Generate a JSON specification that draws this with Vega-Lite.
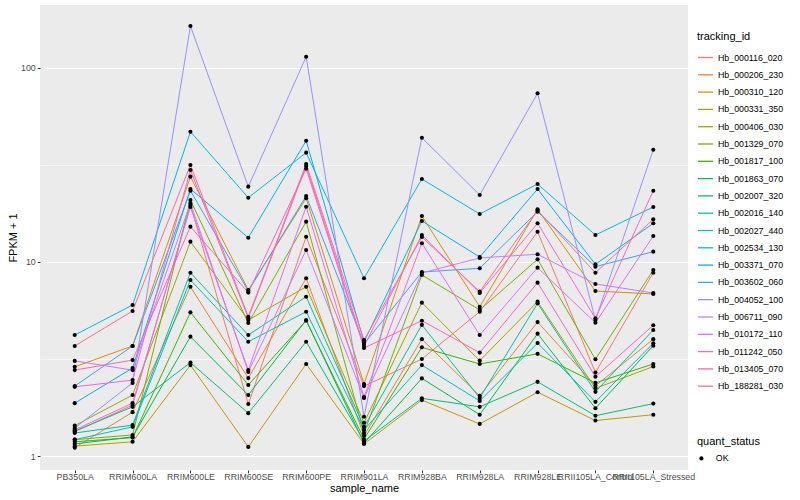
{
  "$schema": "https://vega.github.io/schema/vega-lite/v6.json",
  "width": 648,
  "height": 465,
  "autosize": {"type": "none"},
  "padding": {"left": 40, "top": 5, "right": 112, "bottom": 30},
  "background": "white",
  "config": {
    "font": "Liberation Sans",
    "view": {"fill": "#EBEBEB", "stroke": null},
    "axis": {
      "domain": false,
      "gridColor": "white",
      "labelColor": "#4D4D4D",
      "labelFontSize": 8.8,
      "tickColor": "#333333",
      "tickSize": 2.75,
      "titleFontSize": 11,
      "titleFontWeight": "normal",
      "titleColor": "black"
    },
    "legend": {
      "titleFontSize": 11,
      "titleFontWeight": "normal",
      "titleColor": "black",
      "labelFontSize": 8.8,
      "labelColor": "black"
    }
  },
  "datasets": {
    "expr": [
      {"tracking_id":"Hb_000116_020","sample_name":"PB350LA","fpkm_plus_1":1.34,"quant_status":"OK"},
      {"tracking_id":"Hb_000116_020","sample_name":"RRIM600LA","fpkm_plus_1":1.84,"quant_status":"OK"},
      {"tracking_id":"Hb_000116_020","sample_name":"RRIM600LE","fpkm_plus_1":19.64,"quant_status":"OK"},
      {"tracking_id":"Hb_000116_020","sample_name":"RRIM600SE","fpkm_plus_1":1.86,"quant_status":"OK"},
      {"tracking_id":"Hb_000116_020","sample_name":"RRIM600PE","fpkm_plus_1":13.49,"quant_status":"OK"},
      {"tracking_id":"Hb_000116_020","sample_name":"RRIM901LA","fpkm_plus_1":2.30,"quant_status":"OK"},
      {"tracking_id":"Hb_000116_020","sample_name":"RRIM928BA","fpkm_plus_1":3.17,"quant_status":"OK"},
      {"tracking_id":"Hb_000116_020","sample_name":"RRIM928LA","fpkm_plus_1":5.55,"quant_status":"OK"},
      {"tracking_id":"Hb_000116_020","sample_name":"RRIM928LE","fpkm_plus_1":14.31,"quant_status":"OK"},
      {"tracking_id":"Hb_000116_020","sample_name":"RRII105LA_Control","fpkm_plus_1":2.70,"quant_status":"OK"},
      {"tracking_id":"Hb_000116_020","sample_name":"RRII105LA_Stressed","fpkm_plus_1":8.81,"quant_status":"OK"},

      {"tracking_id":"Hb_000206_230","sample_name":"PB350LA","fpkm_plus_1":1.11,"quant_status":"OK"},
      {"tracking_id":"Hb_000206_230","sample_name":"RRIM600LA","fpkm_plus_1":1.69,"quant_status":"OK"},
      {"tracking_id":"Hb_000206_230","sample_name":"RRIM600LE","fpkm_plus_1":7.46,"quant_status":"OK"},
      {"tracking_id":"Hb_000206_230","sample_name":"RRIM600SE","fpkm_plus_1":2.53,"quant_status":"OK"},
      {"tracking_id":"Hb_000206_230","sample_name":"RRIM600PE","fpkm_plus_1":8.25,"quant_status":"OK"},
      {"tracking_id":"Hb_000206_230","sample_name":"RRIM901LA","fpkm_plus_1":1.28,"quant_status":"OK"},
      {"tracking_id":"Hb_000206_230","sample_name":"RRIM928BA","fpkm_plus_1":4.01,"quant_status":"OK"},
      {"tracking_id":"Hb_000206_230","sample_name":"RRIM928LA","fpkm_plus_1":2.05,"quant_status":"OK"},
      {"tracking_id":"Hb_000206_230","sample_name":"RRIM928LE","fpkm_plus_1":4.91,"quant_status":"OK"},
      {"tracking_id":"Hb_000206_230","sample_name":"RRII105LA_Control","fpkm_plus_1":2.31,"quant_status":"OK"},
      {"tracking_id":"Hb_000206_230","sample_name":"RRII105LA_Stressed","fpkm_plus_1":4.01,"quant_status":"OK"},

      {"tracking_id":"Hb_000310_120","sample_name":"PB350LA","fpkm_plus_1":2.89,"quant_status":"OK"},
      {"tracking_id":"Hb_000310_120","sample_name":"RRIM600LA","fpkm_plus_1":3.70,"quant_status":"OK"},
      {"tracking_id":"Hb_000310_120","sample_name":"RRIM600LE","fpkm_plus_1":27.46,"quant_status":"OK"},
      {"tracking_id":"Hb_000310_120","sample_name":"RRIM600SE","fpkm_plus_1":7.18,"quant_status":"OK"},
      {"tracking_id":"Hb_000310_120","sample_name":"RRIM600PE","fpkm_plus_1":21.26,"quant_status":"OK"},
      {"tracking_id":"Hb_000310_120","sample_name":"RRIM901LA","fpkm_plus_1":2.36,"quant_status":"OK"},
      {"tracking_id":"Hb_000310_120","sample_name":"RRIM928BA","fpkm_plus_1":17.24,"quant_status":"OK"},
      {"tracking_id":"Hb_000310_120","sample_name":"RRIM928LA","fpkm_plus_1":5.89,"quant_status":"OK"},
      {"tracking_id":"Hb_000310_120","sample_name":"RRIM928LE","fpkm_plus_1":18.66,"quant_status":"OK"},
      {"tracking_id":"Hb_000310_120","sample_name":"RRII105LA_Control","fpkm_plus_1":7.09,"quant_status":"OK"},
      {"tracking_id":"Hb_000310_120","sample_name":"RRII105LA_Stressed","fpkm_plus_1":6.85,"quant_status":"OK"},

      {"tracking_id":"Hb_000331_350","sample_name":"PB350LA","fpkm_plus_1":1.13,"quant_status":"OK"},
      {"tracking_id":"Hb_000331_350","sample_name":"RRIM600LA","fpkm_plus_1":1.19,"quant_status":"OK"},
      {"tracking_id":"Hb_000331_350","sample_name":"RRIM600LE","fpkm_plus_1":2.95,"quant_status":"OK"},
      {"tracking_id":"Hb_000331_350","sample_name":"RRIM600SE","fpkm_plus_1":1.12,"quant_status":"OK"},
      {"tracking_id":"Hb_000331_350","sample_name":"RRIM600PE","fpkm_plus_1":2.99,"quant_status":"OK"},
      {"tracking_id":"Hb_000331_350","sample_name":"RRIM901LA","fpkm_plus_1":1.16,"quant_status":"OK"},
      {"tracking_id":"Hb_000331_350","sample_name":"RRIM928BA","fpkm_plus_1":1.95,"quant_status":"OK"},
      {"tracking_id":"Hb_000331_350","sample_name":"RRIM928LA","fpkm_plus_1":1.47,"quant_status":"OK"},
      {"tracking_id":"Hb_000331_350","sample_name":"RRIM928LE","fpkm_plus_1":2.14,"quant_status":"OK"},
      {"tracking_id":"Hb_000331_350","sample_name":"RRII105LA_Control","fpkm_plus_1":1.53,"quant_status":"OK"},
      {"tracking_id":"Hb_000331_350","sample_name":"RRII105LA_Stressed","fpkm_plus_1":1.64,"quant_status":"OK"},

      {"tracking_id":"Hb_000406_030","sample_name":"PB350LA","fpkm_plus_1":1.44,"quant_status":"OK"},
      {"tracking_id":"Hb_000406_030","sample_name":"RRIM600LA","fpkm_plus_1":2.07,"quant_status":"OK"},
      {"tracking_id":"Hb_000406_030","sample_name":"RRIM600LE","fpkm_plus_1":12.72,"quant_status":"OK"},
      {"tracking_id":"Hb_000406_030","sample_name":"RRIM600SE","fpkm_plus_1":5.03,"quant_status":"OK"},
      {"tracking_id":"Hb_000406_030","sample_name":"RRIM600PE","fpkm_plus_1":7.46,"quant_status":"OK"},
      {"tracking_id":"Hb_000406_030","sample_name":"RRIM901LA","fpkm_plus_1":1.49,"quant_status":"OK"},
      {"tracking_id":"Hb_000406_030","sample_name":"RRIM928BA","fpkm_plus_1":6.18,"quant_status":"OK"},
      {"tracking_id":"Hb_000406_030","sample_name":"RRIM928LA","fpkm_plus_1":3.11,"quant_status":"OK"},
      {"tracking_id":"Hb_000406_030","sample_name":"RRIM928LE","fpkm_plus_1":6.25,"quant_status":"OK"},
      {"tracking_id":"Hb_000406_030","sample_name":"RRII105LA_Control","fpkm_plus_1":2.24,"quant_status":"OK"},
      {"tracking_id":"Hb_000406_030","sample_name":"RRII105LA_Stressed","fpkm_plus_1":2.90,"quant_status":"OK"},

      {"tracking_id":"Hb_001329_070","sample_name":"PB350LA","fpkm_plus_1":1.22,"quant_status":"OK"},
      {"tracking_id":"Hb_001329_070","sample_name":"RRIM600LA","fpkm_plus_1":1.29,"quant_status":"OK"},
      {"tracking_id":"Hb_001329_070","sample_name":"RRIM600LE","fpkm_plus_1":20.84,"quant_status":"OK"},
      {"tracking_id":"Hb_001329_070","sample_name":"RRIM600SE","fpkm_plus_1":4.86,"quant_status":"OK"},
      {"tracking_id":"Hb_001329_070","sample_name":"RRIM600PE","fpkm_plus_1":16.12,"quant_status":"OK"},
      {"tracking_id":"Hb_001329_070","sample_name":"RRIM901LA","fpkm_plus_1":1.32,"quant_status":"OK"},
      {"tracking_id":"Hb_001329_070","sample_name":"RRIM928BA","fpkm_plus_1":8.58,"quant_status":"OK"},
      {"tracking_id":"Hb_001329_070","sample_name":"RRIM928LA","fpkm_plus_1":5.67,"quant_status":"OK"},
      {"tracking_id":"Hb_001329_070","sample_name":"RRIM928LE","fpkm_plus_1":10.32,"quant_status":"OK"},
      {"tracking_id":"Hb_001329_070","sample_name":"RRII105LA_Control","fpkm_plus_1":3.16,"quant_status":"OK"},
      {"tracking_id":"Hb_001329_070","sample_name":"RRII105LA_Stressed","fpkm_plus_1":9.10,"quant_status":"OK"},

      {"tracking_id":"Hb_001817_100","sample_name":"PB350LA","fpkm_plus_1":1.19,"quant_status":"OK"},
      {"tracking_id":"Hb_001817_100","sample_name":"RRIM600LA","fpkm_plus_1":1.25,"quant_status":"OK"},
      {"tracking_id":"Hb_001817_100","sample_name":"RRIM600LE","fpkm_plus_1":5.51,"quant_status":"OK"},
      {"tracking_id":"Hb_001817_100","sample_name":"RRIM600SE","fpkm_plus_1":2.33,"quant_status":"OK"},
      {"tracking_id":"Hb_001817_100","sample_name":"RRIM600PE","fpkm_plus_1":4.99,"quant_status":"OK"},
      {"tracking_id":"Hb_001817_100","sample_name":"RRIM901LA","fpkm_plus_1":1.23,"quant_status":"OK"},
      {"tracking_id":"Hb_001817_100","sample_name":"RRIM928BA","fpkm_plus_1":3.64,"quant_status":"OK"},
      {"tracking_id":"Hb_001817_100","sample_name":"RRIM928LA","fpkm_plus_1":2.99,"quant_status":"OK"},
      {"tracking_id":"Hb_001817_100","sample_name":"RRIM928LE","fpkm_plus_1":3.37,"quant_status":"OK"},
      {"tracking_id":"Hb_001817_100","sample_name":"RRII105LA_Control","fpkm_plus_1":2.39,"quant_status":"OK"},
      {"tracking_id":"Hb_001817_100","sample_name":"RRII105LA_Stressed","fpkm_plus_1":2.99,"quant_status":"OK"},

      {"tracking_id":"Hb_001863_070","sample_name":"PB350LA","fpkm_plus_1":1.16,"quant_status":"OK"},
      {"tracking_id":"Hb_001863_070","sample_name":"RRIM600LA","fpkm_plus_1":1.26,"quant_status":"OK"},
      {"tracking_id":"Hb_001863_070","sample_name":"RRIM600LE","fpkm_plus_1":4.13,"quant_status":"OK"},
      {"tracking_id":"Hb_001863_070","sample_name":"RRIM600SE","fpkm_plus_1":2.07,"quant_status":"OK"},
      {"tracking_id":"Hb_001863_070","sample_name":"RRIM600PE","fpkm_plus_1":5.03,"quant_status":"OK"},
      {"tracking_id":"Hb_001863_070","sample_name":"RRIM901LA","fpkm_plus_1":1.17,"quant_status":"OK"},
      {"tracking_id":"Hb_001863_070","sample_name":"RRIM928BA","fpkm_plus_1":2.52,"quant_status":"OK"},
      {"tracking_id":"Hb_001863_070","sample_name":"RRIM928LA","fpkm_plus_1":1.64,"quant_status":"OK"},
      {"tracking_id":"Hb_001863_070","sample_name":"RRIM928LE","fpkm_plus_1":4.28,"quant_status":"OK"},
      {"tracking_id":"Hb_001863_070","sample_name":"RRII105LA_Control","fpkm_plus_1":1.77,"quant_status":"OK"},
      {"tracking_id":"Hb_001863_070","sample_name":"RRII105LA_Stressed","fpkm_plus_1":3.71,"quant_status":"OK"},

      {"tracking_id":"Hb_002007_320","sample_name":"PB350LA","fpkm_plus_1":1.35,"quant_status":"OK"},
      {"tracking_id":"Hb_002007_320","sample_name":"RRIM600LA","fpkm_plus_1":1.80,"quant_status":"OK"},
      {"tracking_id":"Hb_002007_320","sample_name":"RRIM600LE","fpkm_plus_1":3.04,"quant_status":"OK"},
      {"tracking_id":"Hb_002007_320","sample_name":"RRIM600SE","fpkm_plus_1":1.67,"quant_status":"OK"},
      {"tracking_id":"Hb_002007_320","sample_name":"RRIM600PE","fpkm_plus_1":3.89,"quant_status":"OK"},
      {"tracking_id":"Hb_002007_320","sample_name":"RRIM901LA","fpkm_plus_1":1.20,"quant_status":"OK"},
      {"tracking_id":"Hb_002007_320","sample_name":"RRIM928BA","fpkm_plus_1":1.99,"quant_status":"OK"},
      {"tracking_id":"Hb_002007_320","sample_name":"RRIM928LA","fpkm_plus_1":1.80,"quant_status":"OK"},
      {"tracking_id":"Hb_002007_320","sample_name":"RRIM928LE","fpkm_plus_1":2.42,"quant_status":"OK"},
      {"tracking_id":"Hb_002007_320","sample_name":"RRII105LA_Control","fpkm_plus_1":1.62,"quant_status":"OK"},
      {"tracking_id":"Hb_002007_320","sample_name":"RRII105LA_Stressed","fpkm_plus_1":1.87,"quant_status":"OK"},

      {"tracking_id":"Hb_002016_140","sample_name":"PB350LA","fpkm_plus_1":1.32,"quant_status":"OK"},
      {"tracking_id":"Hb_002016_140","sample_name":"RRIM600LA","fpkm_plus_1":1.45,"quant_status":"OK"},
      {"tracking_id":"Hb_002016_140","sample_name":"RRIM600LE","fpkm_plus_1":8.81,"quant_status":"OK"},
      {"tracking_id":"Hb_002016_140","sample_name":"RRIM600SE","fpkm_plus_1":4.21,"quant_status":"OK"},
      {"tracking_id":"Hb_002016_140","sample_name":"RRIM600PE","fpkm_plus_1":6.63,"quant_status":"OK"},
      {"tracking_id":"Hb_002016_140","sample_name":"RRIM901LA","fpkm_plus_1":1.42,"quant_status":"OK"},
      {"tracking_id":"Hb_002016_140","sample_name":"RRIM928BA","fpkm_plus_1":4.75,"quant_status":"OK"},
      {"tracking_id":"Hb_002016_140","sample_name":"RRIM928LA","fpkm_plus_1":2.00,"quant_status":"OK"},
      {"tracking_id":"Hb_002016_140","sample_name":"RRIM928LE","fpkm_plus_1":6.13,"quant_status":"OK"},
      {"tracking_id":"Hb_002016_140","sample_name":"RRII105LA_Control","fpkm_plus_1":2.15,"quant_status":"OK"},
      {"tracking_id":"Hb_002016_140","sample_name":"RRII105LA_Stressed","fpkm_plus_1":4.47,"quant_status":"OK"},

      {"tracking_id":"Hb_002027_440","sample_name":"PB350LA","fpkm_plus_1":1.22,"quant_status":"OK"},
      {"tracking_id":"Hb_002027_440","sample_name":"RRIM600LA","fpkm_plus_1":1.42,"quant_status":"OK"},
      {"tracking_id":"Hb_002027_440","sample_name":"RRIM600LE","fpkm_plus_1":8.08,"quant_status":"OK"},
      {"tracking_id":"Hb_002027_440","sample_name":"RRIM600SE","fpkm_plus_1":3.89,"quant_status":"OK"},
      {"tracking_id":"Hb_002027_440","sample_name":"RRIM600PE","fpkm_plus_1":5.55,"quant_status":"OK"},
      {"tracking_id":"Hb_002027_440","sample_name":"RRIM901LA","fpkm_plus_1":1.37,"quant_status":"OK"},
      {"tracking_id":"Hb_002027_440","sample_name":"RRIM928BA","fpkm_plus_1":2.95,"quant_status":"OK"},
      {"tracking_id":"Hb_002027_440","sample_name":"RRIM928LA","fpkm_plus_1":1.93,"quant_status":"OK"},
      {"tracking_id":"Hb_002027_440","sample_name":"RRIM928LE","fpkm_plus_1":3.83,"quant_status":"OK"},
      {"tracking_id":"Hb_002027_440","sample_name":"RRII105LA_Control","fpkm_plus_1":1.91,"quant_status":"OK"},
      {"tracking_id":"Hb_002027_440","sample_name":"RRII105LA_Stressed","fpkm_plus_1":3.82,"quant_status":"OK"},

      {"tracking_id":"Hb_002534_130","sample_name":"PB350LA","fpkm_plus_1":4.21,"quant_status":"OK"},
      {"tracking_id":"Hb_002534_130","sample_name":"RRIM600LA","fpkm_plus_1":6.01,"quant_status":"OK"},
      {"tracking_id":"Hb_002534_130","sample_name":"RRIM600LE","fpkm_plus_1":46.77,"quant_status":"OK"},
      {"tracking_id":"Hb_002534_130","sample_name":"RRIM600SE","fpkm_plus_1":21.41,"quant_status":"OK"},
      {"tracking_id":"Hb_002534_130","sample_name":"RRIM600PE","fpkm_plus_1":36.48,"quant_status":"OK"},
      {"tracking_id":"Hb_002534_130","sample_name":"RRIM901LA","fpkm_plus_1":8.25,"quant_status":"OK"},
      {"tracking_id":"Hb_002534_130","sample_name":"RRIM928BA","fpkm_plus_1":26.71,"quant_status":"OK"},
      {"tracking_id":"Hb_002534_130","sample_name":"RRIM928LA","fpkm_plus_1":17.65,"quant_status":"OK"},
      {"tracking_id":"Hb_002534_130","sample_name":"RRIM928LE","fpkm_plus_1":25.18,"quant_status":"OK"},
      {"tracking_id":"Hb_002534_130","sample_name":"RRII105LA_Control","fpkm_plus_1":13.76,"quant_status":"OK"},
      {"tracking_id":"Hb_002534_130","sample_name":"RRII105LA_Stressed","fpkm_plus_1":19.18,"quant_status":"OK"},

      {"tracking_id":"Hb_003371_070","sample_name":"PB350LA","fpkm_plus_1":1.88,"quant_status":"OK"},
      {"tracking_id":"Hb_003371_070","sample_name":"RRIM600LA","fpkm_plus_1":2.85,"quant_status":"OK"},
      {"tracking_id":"Hb_003371_070","sample_name":"RRIM600LE","fpkm_plus_1":23.73,"quant_status":"OK"},
      {"tracking_id":"Hb_003371_070","sample_name":"RRIM600SE","fpkm_plus_1":13.33,"quant_status":"OK"},
      {"tracking_id":"Hb_003371_070","sample_name":"RRIM600PE","fpkm_plus_1":42.04,"quant_status":"OK"},
      {"tracking_id":"Hb_003371_070","sample_name":"RRIM901LA","fpkm_plus_1":3.88,"quant_status":"OK"},
      {"tracking_id":"Hb_003371_070","sample_name":"RRIM928BA","fpkm_plus_1":16.25,"quant_status":"OK"},
      {"tracking_id":"Hb_003371_070","sample_name":"RRIM928LA","fpkm_plus_1":10.61,"quant_status":"OK"},
      {"tracking_id":"Hb_003371_070","sample_name":"RRIM928LE","fpkm_plus_1":23.73,"quant_status":"OK"},
      {"tracking_id":"Hb_003371_070","sample_name":"RRII105LA_Control","fpkm_plus_1":9.73,"quant_status":"OK"},
      {"tracking_id":"Hb_003371_070","sample_name":"RRII105LA_Stressed","fpkm_plus_1":15.81,"quant_status":"OK"},

      {"tracking_id":"Hb_003602_060","sample_name":"PB350LA","fpkm_plus_1":2.30,"quant_status":"OK"},
      {"tracking_id":"Hb_003602_060","sample_name":"RRIM600LA","fpkm_plus_1":3.70,"quant_status":"OK"},
      {"tracking_id":"Hb_003602_060","sample_name":"RRIM600LE","fpkm_plus_1":23.26,"quant_status":"OK"},
      {"tracking_id":"Hb_003602_060","sample_name":"RRIM600SE","fpkm_plus_1":7.09,"quant_status":"OK"},
      {"tracking_id":"Hb_003602_060","sample_name":"RRIM600PE","fpkm_plus_1":21.84,"quant_status":"OK"},
      {"tracking_id":"Hb_003602_060","sample_name":"RRIM901LA","fpkm_plus_1":3.79,"quant_status":"OK"},
      {"tracking_id":"Hb_003602_060","sample_name":"RRIM928BA","fpkm_plus_1":8.88,"quant_status":"OK"},
      {"tracking_id":"Hb_003602_060","sample_name":"RRIM928LA","fpkm_plus_1":9.28,"quant_status":"OK"},
      {"tracking_id":"Hb_003602_060","sample_name":"RRIM928LE","fpkm_plus_1":18.14,"quant_status":"OK"},
      {"tracking_id":"Hb_003602_060","sample_name":"RRII105LA_Control","fpkm_plus_1":9.46,"quant_status":"OK"},
      {"tracking_id":"Hb_003602_060","sample_name":"RRII105LA_Stressed","fpkm_plus_1":11.30,"quant_status":"OK"},

      {"tracking_id":"Hb_004052_100","sample_name":"PB350LA","fpkm_plus_1":1.40,"quant_status":"OK"},
      {"tracking_id":"Hb_004052_100","sample_name":"RRIM600LA","fpkm_plus_1":2.39,"quant_status":"OK"},
      {"tracking_id":"Hb_004052_100","sample_name":"RRIM600LE","fpkm_plus_1":163.5,"quant_status":"OK"},
      {"tracking_id":"Hb_004052_100","sample_name":"RRIM600SE","fpkm_plus_1":24.39,"quant_status":"OK"},
      {"tracking_id":"Hb_004052_100","sample_name":"RRIM600PE","fpkm_plus_1":113.6,"quant_status":"OK"},
      {"tracking_id":"Hb_004052_100","sample_name":"RRIM901LA","fpkm_plus_1":1.60,"quant_status":"OK"},
      {"tracking_id":"Hb_004052_100","sample_name":"RRIM928BA","fpkm_plus_1":43.56,"quant_status":"OK"},
      {"tracking_id":"Hb_004052_100","sample_name":"RRIM928LA","fpkm_plus_1":22.11,"quant_status":"OK"},
      {"tracking_id":"Hb_004052_100","sample_name":"RRIM928LE","fpkm_plus_1":73.7,"quant_status":"OK"},
      {"tracking_id":"Hb_004052_100","sample_name":"RRII105LA_Control","fpkm_plus_1":5.03,"quant_status":"OK"},
      {"tracking_id":"Hb_004052_100","sample_name":"RRII105LA_Stressed","fpkm_plus_1":37.79,"quant_status":"OK"},

      {"tracking_id":"Hb_006711_090","sample_name":"PB350LA","fpkm_plus_1":3.10,"quant_status":"OK"},
      {"tracking_id":"Hb_006711_090","sample_name":"RRIM600LA","fpkm_plus_1":2.78,"quant_status":"OK"},
      {"tracking_id":"Hb_006711_090","sample_name":"RRIM600LE","fpkm_plus_1":20.11,"quant_status":"OK"},
      {"tracking_id":"Hb_006711_090","sample_name":"RRIM600SE","fpkm_plus_1":2.72,"quant_status":"OK"},
      {"tracking_id":"Hb_006711_090","sample_name":"RRIM600PE","fpkm_plus_1":11.53,"quant_status":"OK"},
      {"tracking_id":"Hb_006711_090","sample_name":"RRIM901LA","fpkm_plus_1":2.00,"quant_status":"OK"},
      {"tracking_id":"Hb_006711_090","sample_name":"RRIM928BA","fpkm_plus_1":8.78,"quant_status":"OK"},
      {"tracking_id":"Hb_006711_090","sample_name":"RRIM928LA","fpkm_plus_1":10.49,"quant_status":"OK"},
      {"tracking_id":"Hb_006711_090","sample_name":"RRIM928LE","fpkm_plus_1":10.96,"quant_status":"OK"},
      {"tracking_id":"Hb_006711_090","sample_name":"RRII105LA_Control","fpkm_plus_1":7.71,"quant_status":"OK"},
      {"tracking_id":"Hb_006711_090","sample_name":"RRII105LA_Stressed","fpkm_plus_1":6.93,"quant_status":"OK"},

      {"tracking_id":"Hb_010172_110","sample_name":"PB350LA","fpkm_plus_1":1.37,"quant_status":"OK"},
      {"tracking_id":"Hb_010172_110","sample_name":"RRIM600LA","fpkm_plus_1":1.88,"quant_status":"OK"},
      {"tracking_id":"Hb_010172_110","sample_name":"RRIM600LE","fpkm_plus_1":19.18,"quant_status":"OK"},
      {"tracking_id":"Hb_010172_110","sample_name":"RRIM600SE","fpkm_plus_1":2.78,"quant_status":"OK"},
      {"tracking_id":"Hb_010172_110","sample_name":"RRIM600PE","fpkm_plus_1":19.24,"quant_status":"OK"},
      {"tracking_id":"Hb_010172_110","sample_name":"RRIM901LA","fpkm_plus_1":2.02,"quant_status":"OK"},
      {"tracking_id":"Hb_010172_110","sample_name":"RRIM928BA","fpkm_plus_1":12.48,"quant_status":"OK"},
      {"tracking_id":"Hb_010172_110","sample_name":"RRIM928LA","fpkm_plus_1":4.21,"quant_status":"OK"},
      {"tracking_id":"Hb_010172_110","sample_name":"RRIM928LE","fpkm_plus_1":9.35,"quant_status":"OK"},
      {"tracking_id":"Hb_010172_110","sample_name":"RRII105LA_Control","fpkm_plus_1":4.87,"quant_status":"OK"},
      {"tracking_id":"Hb_010172_110","sample_name":"RRII105LA_Stressed","fpkm_plus_1":13.60,"quant_status":"OK"},

      {"tracking_id":"Hb_011242_050","sample_name":"PB350LA","fpkm_plus_1":2.28,"quant_status":"OK"},
      {"tracking_id":"Hb_011242_050","sample_name":"RRIM600LA","fpkm_plus_1":2.47,"quant_status":"OK"},
      {"tracking_id":"Hb_011242_050","sample_name":"RRIM600LE","fpkm_plus_1":29.72,"quant_status":"OK"},
      {"tracking_id":"Hb_011242_050","sample_name":"RRIM600SE","fpkm_plus_1":5.15,"quant_status":"OK"},
      {"tracking_id":"Hb_011242_050","sample_name":"RRIM600PE","fpkm_plus_1":31.16,"quant_status":"OK"},
      {"tracking_id":"Hb_011242_050","sample_name":"RRIM901LA","fpkm_plus_1":3.70,"quant_status":"OK"},
      {"tracking_id":"Hb_011242_050","sample_name":"RRIM928BA","fpkm_plus_1":13.76,"quant_status":"OK"},
      {"tracking_id":"Hb_011242_050","sample_name":"RRIM928LA","fpkm_plus_1":6.93,"quant_status":"OK"},
      {"tracking_id":"Hb_011242_050","sample_name":"RRIM928LE","fpkm_plus_1":15.81,"quant_status":"OK"},
      {"tracking_id":"Hb_011242_050","sample_name":"RRII105LA_Control","fpkm_plus_1":5.13,"quant_status":"OK"},
      {"tracking_id":"Hb_011242_050","sample_name":"RRII105LA_Stressed","fpkm_plus_1":23.26,"quant_status":"OK"},

      {"tracking_id":"Hb_013405_070","sample_name":"PB350LA","fpkm_plus_1":2.78,"quant_status":"OK"},
      {"tracking_id":"Hb_013405_070","sample_name":"RRIM600LA","fpkm_plus_1":3.13,"quant_status":"OK"},
      {"tracking_id":"Hb_013405_070","sample_name":"RRIM600LE","fpkm_plus_1":15.19,"quant_status":"OK"},
      {"tracking_id":"Hb_013405_070","sample_name":"RRIM600SE","fpkm_plus_1":6.96,"quant_status":"OK"},
      {"tracking_id":"Hb_013405_070","sample_name":"RRIM600PE","fpkm_plus_1":30.18,"quant_status":"OK"},
      {"tracking_id":"Hb_013405_070","sample_name":"RRIM901LA","fpkm_plus_1":3.61,"quant_status":"OK"},
      {"tracking_id":"Hb_013405_070","sample_name":"RRIM928BA","fpkm_plus_1":4.99,"quant_status":"OK"},
      {"tracking_id":"Hb_013405_070","sample_name":"RRIM928LA","fpkm_plus_1":3.42,"quant_status":"OK"},
      {"tracking_id":"Hb_013405_070","sample_name":"RRIM928LE","fpkm_plus_1":7.83,"quant_status":"OK"},
      {"tracking_id":"Hb_013405_070","sample_name":"RRII105LA_Control","fpkm_plus_1":2.57,"quant_status":"OK"},
      {"tracking_id":"Hb_013405_070","sample_name":"RRII105LA_Stressed","fpkm_plus_1":4.73,"quant_status":"OK"},

      {"tracking_id":"Hb_188281_030","sample_name":"PB350LA","fpkm_plus_1":3.70,"quant_status":"OK"},
      {"tracking_id":"Hb_188281_030","sample_name":"RRIM600LA","fpkm_plus_1":5.60,"quant_status":"OK"},
      {"tracking_id":"Hb_188281_030","sample_name":"RRIM600LE","fpkm_plus_1":31.53,"quant_status":"OK"},
      {"tracking_id":"Hb_188281_030","sample_name":"RRIM600SE","fpkm_plus_1":5.23,"quant_status":"OK"},
      {"tracking_id":"Hb_188281_030","sample_name":"RRIM600PE","fpkm_plus_1":31.91,"quant_status":"OK"},
      {"tracking_id":"Hb_188281_030","sample_name":"RRIM901LA","fpkm_plus_1":3.97,"quant_status":"OK"},
      {"tracking_id":"Hb_188281_030","sample_name":"RRIM928BA","fpkm_plus_1":13.44,"quant_status":"OK"},
      {"tracking_id":"Hb_188281_030","sample_name":"RRIM928LA","fpkm_plus_1":7.04,"quant_status":"OK"},
      {"tracking_id":"Hb_188281_030","sample_name":"RRIM928LE","fpkm_plus_1":18.40,"quant_status":"OK"},
      {"tracking_id":"Hb_188281_030","sample_name":"RRII105LA_Control","fpkm_plus_1":8.81,"quant_status":"OK"},
      {"tracking_id":"Hb_188281_030","sample_name":"RRII105LA_Stressed","fpkm_plus_1":16.58,"quant_status":"OK"}
    ]
  },
  "data": {"name": "expr"},
  "encoding": {
    "x": {
      "field": "sample_name",
      "type": "nominal",
      "sort": ["PB350LA","RRIM600LA","RRIM600LE","RRIM600SE","RRIM600PE","RRIM901LA","RRIM928BA","RRIM928LA","RRIM928LE","RRII105LA_Control","RRII105LA_Stressed"],
      "scale": {"type": "point", "padding": 0.6},
      "axis": {
        "title": "sample_name",
        "labelAngle": 0,
        "labelOverlap": false,
        "labelBound": false,
        "labelPadding": 0,
        "titlePadding": 1,
        "gridWidth": 1.1
      }
    },
    "y": {
      "field": "fpkm_plus_1",
      "type": "quantitative",
      "scale": {"type": "log", "domain": [0.852, 209.6], "nice": false, "zero": false},
      "axis": {
        "title": "FPKM + 1",
        "values": [1, 3.1623, 10, 31.623, 100],
        "labelExpr": "datum.value == 1 || datum.value == 10 || datum.value == 100 ? datum.label : ''",
        "labelPadding": 2,
        "titlePadding": 2,
        "gridWidth": {"condition": {"test": "datum.value == 1 || datum.value == 10 || datum.value == 100", "value": 1.1}, "value": 0.55},
        "tickOpacity": {"condition": {"test": "datum.value == 1 || datum.value == 10 || datum.value == 100", "value": 1}, "value": 0}
      }
    }
  },
  "layer": [
    {
      "mark": {"type": "line", "strokeWidth": 1},
      "encoding": {
        "color": {
          "field": "tracking_id",
          "type": "nominal",
          "scale": {"range": ["#F8766D","#EA8331","#D89000","#C09B00","#A3A500","#7CAE00","#39B600","#00BB4E","#00BF7D","#00C1A3","#00BFC4","#00BAE0","#00B0F6","#35A2FF","#9590FF","#C77CFF","#E76BF3","#FA62DB","#FF62BC","#FF6C91"]},
          "legend": {
            "title": "tracking_id",
            "orient": "none",
            "legendX": 657,
            "legendY": 26,
            "symbolType": "stroke",
            "symbolSize": 225,
            "symbolStrokeWidth": 1.3,
            "rowPadding": 3.3,
            "labelOffset": 4,
            "titlePadding": 7,
            "padding": 0
          }
        }
      }
    },
    {
      "mark": {"type": "point", "filled": true, "color": "black", "size": 17, "opacity": 1},
      "encoding": {
        "shape": {
          "field": "quant_status",
          "type": "nominal",
          "scale": {"range": ["circle"]},
          "legend": {
            "title": "quant_status",
            "orient": "none",
            "legendX": 657,
            "legendY": 431,
            "symbolFillColor": "black",
            "symbolStrokeColor": "black",
            "symbolSize": 17,
            "titlePadding": 7,
            "labelOffset": 10,
            "padding": 0
          }
        }
      }
    }
  ]
}
